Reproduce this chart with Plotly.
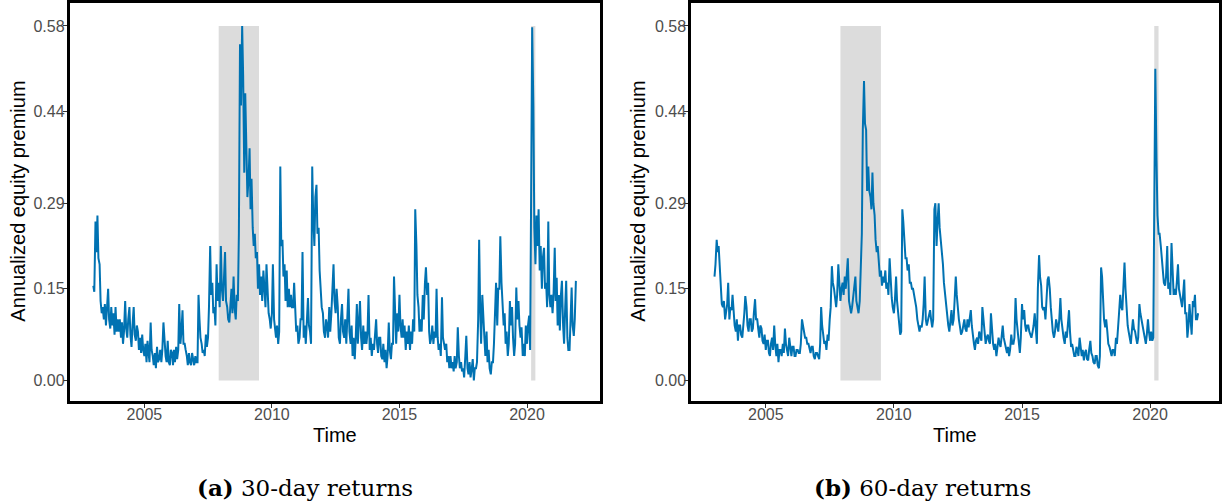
import pandas as pd
import plotly.graph_objects as go

# ---------------- data: semi-monthly readings (1st and 15th), from Jan 2003 ----------------
premium_30d = [
    # 2003
    0.155, 0.145, 0.26, 0.21, 0.27, 0.20, 0.19, 0.13, 0.11, 0.12, 0.10, 0.125,
    0.09, 0.12, 0.15, 0.10, 0.085, 0.12, 0.09, 0.11, 0.075, 0.12, 0.08, 0.10,
    # 2004
    0.08, 0.10, 0.07, 0.095, 0.06, 0.08, 0.13, 0.085, 0.07, 0.10, 0.12, 0.075,
    0.055, 0.09, 0.12, 0.075, 0.065, 0.09, 0.08, 0.05, 0.07, 0.045, 0.075, 0.05,
    # 2005
    0.04, 0.06, 0.03, 0.065, 0.045, 0.03, 0.095, 0.05, 0.04, 0.025, 0.045, 0.02,
    0.055, 0.03, 0.035, 0.05, 0.03, 0.05, 0.095, 0.06, 0.04, 0.03, 0.065, 0.03,
    # 2006
    0.025, 0.05, 0.045, 0.025, 0.05, 0.03, 0.055, 0.035, 0.05, 0.125, 0.06, 0.08,
    0.115, 0.06, 0.06, 0.05, 0.04, 0.025, 0.045, 0.03, 0.025, 0.045, 0.03, 0.025,
    # 2007
    0.04, 0.03, 0.03, 0.14, 0.10, 0.07, 0.06, 0.045, 0.05, 0.04, 0.075, 0.055,
    0.07, 0.12, 0.22, 0.14, 0.16, 0.11, 0.12, 0.09, 0.19, 0.13, 0.16, 0.12,
    # 2008
    0.22, 0.15, 0.13, 0.17, 0.21, 0.13, 0.12, 0.10, 0.095, 0.12, 0.15, 0.11,
    0.17, 0.12, 0.10, 0.14, 0.13, 0.24, 0.55, 0.45, 0.58, 0.50, 0.34, 0.47,
    # 2009
    0.40, 0.30, 0.33, 0.38, 0.28, 0.33, 0.25, 0.22, 0.24, 0.20, 0.21, 0.15,
    0.19, 0.14, 0.17, 0.13, 0.18, 0.14, 0.12, 0.19, 0.15, 0.11, 0.10, 0.085,
    # 2010
    0.11, 0.19, 0.10, 0.08, 0.07, 0.09, 0.06, 0.08, 0.35, 0.22, 0.23, 0.17,
    0.19, 0.13, 0.18, 0.12, 0.15, 0.12, 0.14, 0.12, 0.12, 0.16, 0.10, 0.08,
    # 2011
    0.09, 0.06, 0.07, 0.10, 0.10, 0.21, 0.07, 0.09, 0.06, 0.10, 0.135, 0.09,
    0.08, 0.06, 0.35, 0.27, 0.22, 0.30, 0.32, 0.24, 0.25, 0.18, 0.14, 0.12,
    # 2012
    0.11, 0.08, 0.07, 0.10, 0.09, 0.07, 0.12, 0.08, 0.11, 0.14, 0.19, 0.13,
    0.11, 0.15, 0.12, 0.07, 0.06, 0.10, 0.125, 0.08, 0.07, 0.10, 0.06, 0.10,
    # 2013
    0.15, 0.08, 0.06, 0.09, 0.04, 0.07, 0.035, 0.07, 0.125, 0.06, 0.09, 0.13,
    0.07, 0.05, 0.09, 0.06, 0.08, 0.06, 0.08, 0.14, 0.05, 0.07, 0.04, 0.06,
    # 2014
    0.05, 0.08, 0.10, 0.06, 0.045, 0.07, 0.07, 0.04, 0.035, 0.06, 0.03, 0.05,
    0.02, 0.04, 0.095, 0.05, 0.035, 0.06, 0.06, 0.17, 0.10, 0.06, 0.11, 0.08,
    # 2015
    0.14, 0.09, 0.07, 0.10, 0.07, 0.09, 0.05, 0.08, 0.06, 0.09, 0.05, 0.08,
    0.06, 0.10, 0.08, 0.28, 0.22, 0.14, 0.12, 0.08, 0.10, 0.08, 0.14, 0.10,
    # 2016
    0.16, 0.185, 0.14, 0.16, 0.08, 0.06, 0.07, 0.09, 0.06, 0.08, 0.07, 0.15,
    0.07, 0.05, 0.06, 0.04, 0.136, 0.07, 0.06, 0.05, 0.06, 0.03, 0.04, 0.02,
    # 2017
    0.04, 0.02, 0.03, 0.015, 0.04, 0.02, 0.03, 0.087, 0.04, 0.02, 0.03, 0.015,
    0.02, 0.005, 0.04, 0.073, 0.02, 0.01, 0.03, 0.005, 0.02, 0.035, 0.0, 0.02,
    # 2018
    0.02, 0.03, 0.10, 0.23, 0.12, 0.06, 0.14, 0.09, 0.07, 0.04, 0.08, 0.03,
    0.05, 0.02, 0.01, 0.03, 0.03, 0.06, 0.11, 0.16, 0.09, 0.15, 0.15, 0.236,
    # 2019
    0.16, 0.12, 0.09, 0.11, 0.06, 0.08, 0.04, 0.06, 0.13, 0.09, 0.12, 0.07,
    0.04, 0.06, 0.152, 0.10, 0.13, 0.09, 0.07, 0.087, 0.04, 0.06, 0.04, 0.09,
    # 2020
    0.06, 0.09, 0.106, 0.05, 0.45, 0.578, 0.45, 0.25, 0.19, 0.27, 0.22, 0.28,
    0.18, 0.22, 0.15, 0.20, 0.217, 0.15, 0.16, 0.12, 0.26, 0.14, 0.12, 0.14,
    # 2021 (through 1 Dec)
    0.11, 0.14, 0.217, 0.13, 0.168, 0.09, 0.14, 0.082, 0.14, 0.163, 0.09, 0.06,
    0.12, 0.163, 0.07, 0.05, 0.05, 0.10, 0.152, 0.09, 0.073, 0.10, 0.163,
]

premium_60d = [
    # 2003
    0.17, 0.19, 0.23, 0.21, 0.22, 0.19, 0.15, 0.125, 0.12, 0.13, 0.10, 0.115,
    0.125, 0.16, 0.10, 0.12, 0.115, 0.14, 0.10, 0.09, 0.08, 0.10, 0.065, 0.09,
    # 2004
    0.09, 0.075, 0.07, 0.10, 0.11, 0.138, 0.12, 0.09, 0.08, 0.10, 0.10, 0.08,
    0.085, 0.11, 0.133, 0.10, 0.10, 0.085, 0.07, 0.09, 0.085, 0.065, 0.06, 0.075,
    # 2005
    0.05, 0.065, 0.065, 0.045, 0.04, 0.06, 0.07, 0.05, 0.09, 0.06, 0.04, 0.06,
    0.03, 0.05, 0.05, 0.04, 0.06, 0.045, 0.085, 0.06, 0.05, 0.04, 0.07, 0.05,
    # 2006
    0.04, 0.055, 0.055, 0.04, 0.04, 0.05, 0.05, 0.045, 0.045, 0.06, 0.10, 0.09,
    0.08, 0.07, 0.07, 0.06, 0.06, 0.05, 0.045, 0.055, 0.055, 0.04, 0.035, 0.045,
    # 2007
    0.045, 0.04, 0.035, 0.06, 0.12, 0.09, 0.07, 0.06, 0.065, 0.05, 0.075, 0.065,
    0.10, 0.12, 0.187, 0.16, 0.15, 0.13, 0.12, 0.14, 0.19, 0.16, 0.13, 0.15,
    # 2008
    0.16, 0.14, 0.17, 0.15, 0.18, 0.20, 0.13, 0.12, 0.11, 0.12, 0.14, 0.16,
    0.17, 0.13, 0.12, 0.11, 0.13, 0.17, 0.24, 0.41, 0.49, 0.42, 0.41, 0.31,
    # 2009
    0.35, 0.31, 0.30, 0.28, 0.34, 0.29, 0.27, 0.23, 0.21, 0.22, 0.19, 0.17,
    0.18, 0.155, 0.17, 0.16, 0.18, 0.15, 0.16, 0.14, 0.20, 0.16, 0.135, 0.12,
    # 2010
    0.11, 0.13, 0.17, 0.13, 0.11, 0.09, 0.075, 0.08, 0.28, 0.26, 0.23, 0.20,
    0.20, 0.18, 0.19, 0.16, 0.16, 0.15, 0.15, 0.14, 0.13, 0.12, 0.10, 0.09,
    # 2011
    0.08, 0.09, 0.087, 0.10, 0.125, 0.17, 0.10, 0.09, 0.10, 0.11, 0.115, 0.10,
    0.087, 0.10, 0.28, 0.29, 0.22, 0.26, 0.29, 0.25, 0.23, 0.21, 0.19, 0.16,
    # 2012
    0.14, 0.12, 0.10, 0.09, 0.08, 0.10, 0.115, 0.09, 0.10, 0.13, 0.17, 0.14,
    0.115, 0.10, 0.087, 0.075, 0.08, 0.09, 0.10, 0.085, 0.08, 0.10, 0.087, 0.10,
    # 2013
    0.115, 0.09, 0.07, 0.06, 0.05, 0.065, 0.07, 0.06, 0.08, 0.07, 0.065, 0.12,
    0.10, 0.08, 0.06, 0.07, 0.075, 0.065, 0.06, 0.11, 0.07, 0.06, 0.05, 0.06,
    # 2014
    0.04, 0.06, 0.07, 0.06, 0.055, 0.07, 0.09, 0.07, 0.06, 0.05, 0.045, 0.055,
    0.04, 0.05, 0.075, 0.06, 0.06, 0.07, 0.135, 0.10, 0.08, 0.06, 0.045, 0.07,
    # 2015
    0.125, 0.10, 0.115, 0.09, 0.08, 0.09, 0.09, 0.08, 0.075, 0.07, 0.08, 0.09,
    0.11, 0.08, 0.06, 0.15, 0.205, 0.17, 0.155, 0.12, 0.115, 0.12, 0.10, 0.13,
    # 2016
    0.165, 0.17, 0.15, 0.12, 0.09, 0.08, 0.07, 0.08, 0.10, 0.09, 0.08, 0.10,
    0.135, 0.10, 0.08, 0.07, 0.06, 0.08, 0.07, 0.09, 0.115, 0.08, 0.055, 0.06,
    # 2017
    0.05, 0.04, 0.04, 0.055, 0.05, 0.04, 0.07, 0.05, 0.04, 0.05, 0.033, 0.045,
    0.05, 0.035, 0.033, 0.05, 0.065, 0.045, 0.04, 0.03, 0.027, 0.04, 0.04, 0.025,
    # 2018
    0.02, 0.04, 0.185, 0.17, 0.135, 0.10, 0.087, 0.10, 0.08, 0.06, 0.055, 0.045,
    0.04, 0.05, 0.05, 0.04, 0.07, 0.06, 0.08, 0.11, 0.14, 0.12, 0.115, 0.15,
    # 2019
    0.193, 0.15, 0.115, 0.09, 0.08, 0.07, 0.06, 0.08, 0.10, 0.085, 0.08, 0.07,
    0.06, 0.07, 0.125, 0.11, 0.10, 0.09, 0.08, 0.07, 0.06, 0.075, 0.10, 0.08,
    # 2020
    0.065, 0.08, 0.065, 0.07, 0.30, 0.51, 0.36, 0.27, 0.24, 0.24, 0.22, 0.20,
    0.18, 0.16, 0.155, 0.17, 0.22, 0.15, 0.16, 0.14, 0.225, 0.17, 0.14, 0.15,
    # 2021 (through 15 Nov)
    0.14, 0.16, 0.19, 0.15, 0.14, 0.13, 0.12, 0.14, 0.165, 0.11, 0.11, 0.07,
    0.09, 0.125, 0.10, 0.075, 0.13, 0.12, 0.14, 0.10, 0.10, 0.11,
]

series_start = "2003-01-01"
recessions = [("2007-12-01", "2009-06-30"), ("2020-02-29", "2020-04-30")]
recession_top = 0.58

y_tickvals = [0.00, 0.15, 0.29, 0.44, 0.58]
y_ticktext = ["0.00", "0.15", "0.29", "0.44", "0.58"]
x_tickvals = ["2005-01-01", "2010-01-01", "2015-01-01", "2020-01-01"]
x_ticktext = ["2005", "2010", "2015", "2020"]

panel_tags = ["(a)", "(b)"]
panel_captions = ["30-day returns", "60-day returns"]
y_title = "Annualized equity premium"
x_title = "Time"

# ---------------- figure ----------------
W, H = 1228, 504
LINE_COLOR = "#0072B2"
SHADE = "#DCDCDC"
SANS = "Liberation Sans, Arial, sans-serif"

dates_30 = pd.date_range(series_start, periods=len(premium_30d), freq="SMS")
dates_60 = pd.date_range(series_start, periods=len(premium_60d), freq="SMS")

fig = go.Figure()
fig.add_trace(go.Scatter(x=dates_30, y=premium_30d, mode="lines",
                         line=dict(color=LINE_COLOR, width=2),
                         xaxis="x", yaxis="y", showlegend=False))
fig.add_trace(go.Scatter(x=dates_60, y=premium_60d, mode="lines",
                         line=dict(color=LINE_COLOR, width=2),
                         xaxis="x2", yaxis="y2", showlegend=False))

for xr, yr in (("x", "y"), ("x2", "y2")):
    for a, b in recessions:
        fig.add_shape(type="rect", xref=xr, yref=yr, x0=a, x1=b,
                      y0=0, y1=recession_top, fillcolor=SHADE,
                      line=dict(width=0), layer="below")

px_domains = [(69.5, 599.5), (691.0, 1219.3)]
x_ranges = [("2002-01-25", "2022-11-04"), ("2002-01-31", "2022-09-13")]
y_dom = [(H - 400.5) / H, (H - 1.0) / H]
y_range = [-0.0334, 0.6175]

axis_common = dict(showline=True, mirror=True, linecolor="black", linewidth=2.5,
                   ticks="outside", ticklen=4, tickwidth=1.1, tickcolor="#333333",
                   showgrid=False, zeroline=False,
                   tickfont=dict(family=SANS, size=16, color="#4D4D4D"))

layout = dict(width=W, height=H, margin=dict(l=0, r=0, t=0, b=0),
              paper_bgcolor="white", plot_bgcolor="white", showlegend=False)
for i, suffix in enumerate(["", "2"]):
    d0, d1 = px_domains[i]
    layout["xaxis" + suffix] = dict(axis_common, type="date",
                                    domain=[d0 / W, d1 / W], range=list(x_ranges[i]),
                                    tickvals=x_tickvals, ticktext=x_ticktext,
                                    ticklabelstandoff=-7,
                                    anchor="y" + suffix)
    layout["yaxis" + suffix] = dict(axis_common, domain=y_dom, range=y_range,
                                    tickvals=y_tickvals, ticktext=y_ticktext,
                                    ticklabelstandoff=-5,
                                    anchor="x" + suffix)
fig.update_layout(**layout)

annotations = []
for i in range(2):
    d0, d1 = px_domains[i]
    offset = 0 if i == 0 else 620
    annotations.append(dict(text=y_title, xref="paper", yref="paper",
                            x=(18 + offset) / W, y=(H - 200.5) / H, textangle=-90,
                            showarrow=False, xanchor="center", yanchor="middle",
                            font=dict(family=SANS, size=20, color="black")))
    annotations.append(dict(text=x_title, xref="paper", yref="paper",
                            x=(d0 + d1) / 2 / W, y=(H - 435) / H,
                            showarrow=False, xanchor="center", yanchor="middle",
                            font=dict(family=SANS, size=20, color="black")))
    cap_x = 304.5 if i == 0 else 922
    annotations.append(dict(text="<b>" + panel_tags[i] + "</b> " + panel_captions[i],
                            xref="paper", yref="paper", x=cap_x / W, y=(H - 487) / H,
                            showarrow=False, xanchor="center", yanchor="middle",
                            font=dict(family="DejaVu Serif, serif", size=23, color="black")))
fig.update_layout(annotations=annotations)

fig.write_html("out.html")
